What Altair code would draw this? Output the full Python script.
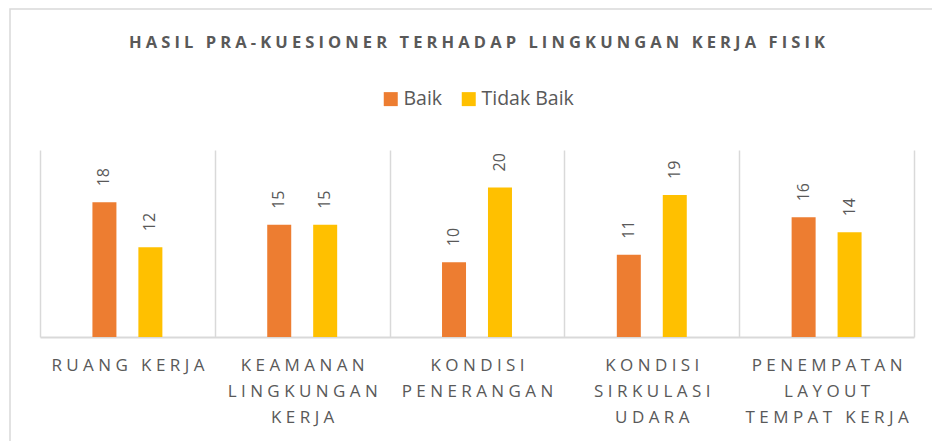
import altair as alt
import pandas as pd

# ---- data ----
category_lines = [
    ["RUANG KERJA"],
    ["KEAMANAN", "LINGKUNGAN", "KERJA"],
    ["KONDISI", "PENERANGAN"],
    ["KONDISI", "SIRKULASI", "UDARA"],
    ["PENEMPATAN", "LAYOUT", "TEMPAT KERJA"],
]
baik = [18, 15, 10, 11, 16]
tidak_baik = [12, 15, 20, 19, 14]
series = ["Baik", "Tidak Baik"]
colors = ["#ED7D31", "#FFC000"]
title_text = "HASIL PRA-KUESIONER TERHADAP LINGKUNGAN KERJA FISIK"


def spaced(s, gap, wordgap):
    return wordgap.join(gap.join(w) for w in s.split(" "))


NB = "\u00a0"
cat_labels = ["|".join(spaced(l, NB, NB * 3) for l in lines) for lines in category_lines]

rows = []
for c, b, t in zip(cat_labels, baik, tidak_baik):
    rows.append({"cat": c, "series": "Baik", "value": b})
    rows.append({"cat": c, "series": "Tidak Baik", "value": t})
df = pd.DataFrame(rows)

FONT = "Open Sans"
GRAY = "#595959"
LINE = "#d9d9d9"

base = alt.Chart(df).encode(
    x=alt.X(
        "cat:N",
        sort=cat_labels,
        scale=alt.Scale(paddingInner=0, paddingOuter=0),
        axis=alt.Axis(
            title=None,
            labelExpr="split(datum.label, '|')",
            labelAngle=0,
            labelFont=FONT,
            labelFontSize=17,
            labelColor=GRAY,
            labelLineHeight=26,
            labelPadding=20,
            labelBaseline="top",
            labelLimit=0,
            labelOverlap=False,
            labelBound=False,
            ticks=False,
            domainColor=LINE,
            domainWidth=2,
            grid=True,
            gridColor=LINE,
            gridWidth=1.5,
            tickBand="extent",
        ),
    ),
    xOffset=alt.XOffset(
        "series:N",
        sort=series,
        scale=alt.Scale(paddingInner=0, paddingOuter=0.902),
    ),
    y=alt.Y("value:Q", scale=alt.Scale(domain=[0, 25]), axis=None),
)

bars = base.mark_bar(size=24).encode(
    color=alt.Color(
        "series:N",
        sort=series,
        scale=alt.Scale(domain=series, range=colors),
        legend=alt.Legend(
            orient="none",
            legendX=341,
            legendY=-61,
            direction="horizontal",
            title=None,
            symbolType="square",
            symbolSize=196,
            symbolStrokeWidth=0,
            labelFont=FONT,
            labelFontSize=19.5,
            labelColor=GRAY,
            columnPadding=16,
            labelOffset=3,
            padding=0,
        ),
    )
)

labels = base.mark_text(
    angle=270,
    align="left",
    baseline="middle",
    dx=16,
    font=FONT,
    fontSize=16,
    color=GRAY,
).encode(text="value:Q")

frame = (
    alt.Chart(pd.DataFrame({"a": [0]}))
    .mark_rect(filled=False, stroke=LINE, strokeWidth=1.5)
    .encode(
        x=alt.value(-30),
        x2=alt.value(900),
        y=alt.value(-141),
        y2=alt.value(300),
    )
)

chart = (
    alt.layer(frame, bars, labels)
    .properties(
        width=874,
        height=187,
        padding={"left": 40, "top": 150, "right": 18, "bottom": 104},
        autosize="none",
        title=alt.TitleParams(
            text=spaced(title_text, "\u2005", "\u2005" * 3),
            font=FONT,
            fontSize=16.5,
            fontWeight="bold",
            color=GRAY,
            anchor="middle",
            baseline="alphabetic",
            offset=-56,
        ),
    )
    .configure_view(stroke=None)
)

chart.save("out.html", embed_options={"renderer": "svg", "actions": False})
